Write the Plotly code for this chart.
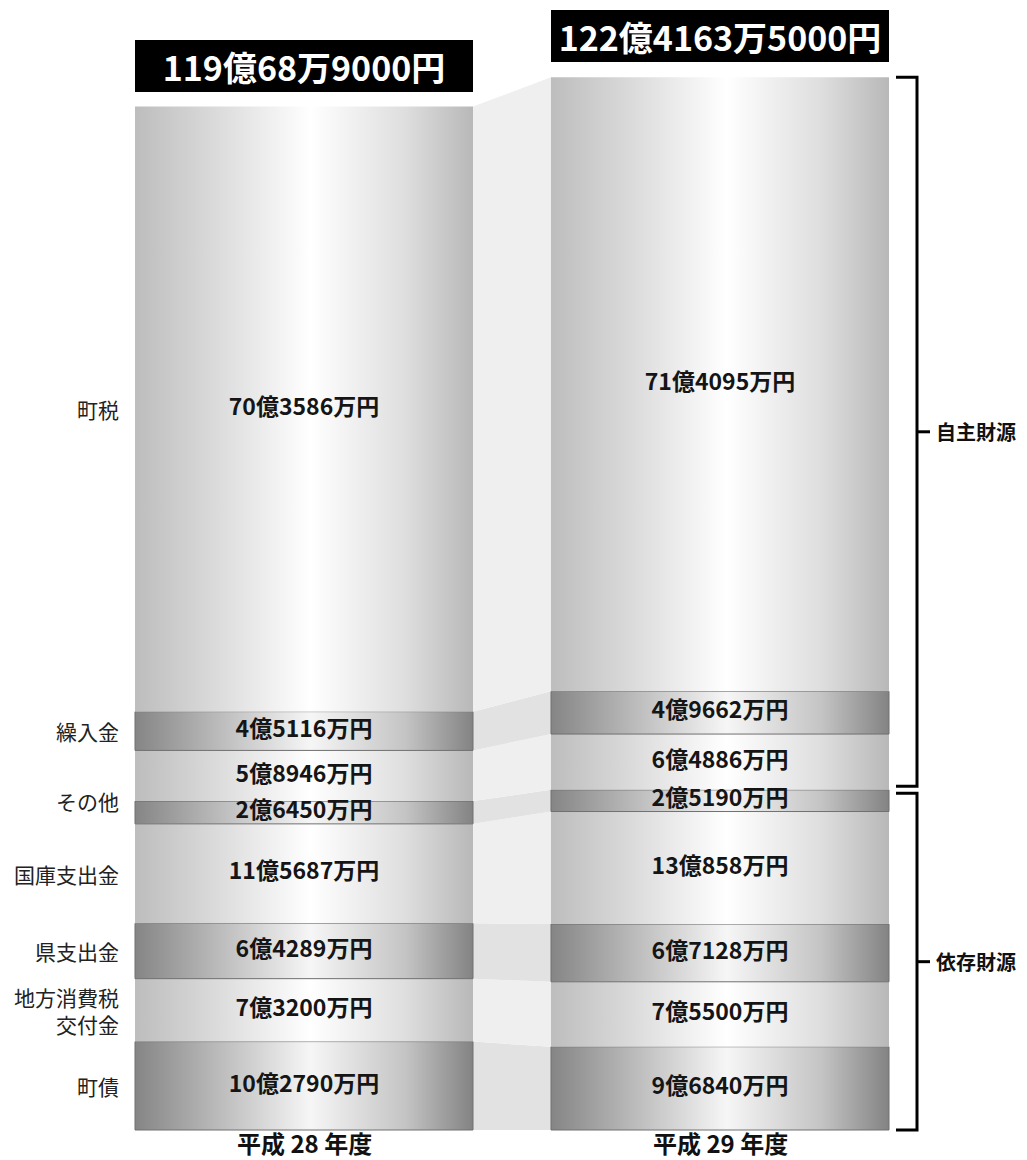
import plotly.graph_objects as go

# ---------------- data (values in 万円) ----------------
categories = ["町債", "地方消費税交付金", "県支出金", "国庫支出金",
              "その他（依存）", "その他（自主）", "繰入金", "町税"]
side_labels = ["町債", "地方消費税<br>交付金", "県支出金", "国庫支出金",
               "その他", "", "繰入金", "町税"]
side_label_anchor = ["mid", "mid", "mid", "mid", "top", "", "mid", "mid"]
years = ["平成 28 年度", "平成 29 年度"]
h28 = [102790, 73200, 64289, 115687, 26450, 58946, 45116, 703586]
h29 = [96840, 75500, 67128, 130858, 25190, 64886, 49662, 714095]
totals_yen = [11900689000, 12241635000]
dark = [True, False, True, False, True, False, True, False]
groups = [("自主財源", 5, 7), ("依存財源", 0, 4)]

series = [h28, h29]

# ---------------- helpers ----------------
def fmt_man(v):
    oku, man = divmod(v, 10000)
    s = ""
    if oku:
        s += f"{oku}億"
    if man:
        s += f"{man}万"
    return s + "円"

def fmt_yen(y):
    oku, r = divmod(y, 10**8)
    man, rest = divmod(r, 10**4)
    s = f"{oku}億"
    if man:
        s += f"{man}万"
    if rest:
        s += f"{rest}"
    return s + "円"

def stack(vals):
    b, out = 0.0, []
    for v in vals:
        out.append((b / 10000, (b + v) / 10000))
        b += v
    return out

# ---------------- geometry (layout) ----------------
W, H = 1027, 1160
PX_X = 416.0          # pixels per x unit
PX_Y = 8.6            # pixels per 億円
centers = [0.0, 1.0]
hw = 169 / PX_X
x_range = [-304 / PX_X, (W - 304) / PX_X]
y_range = [-30 / PX_Y, 1130 / PX_Y]

grad_light = [[0, "#bdbdbd"], [0.25, "#dcdcdc"], [0.52, "#ffffff"], [0.8, "#dedede"], [1, "#b8b8b8"]]
grad_dark = [[0, "#858585"], [0.22, "#b5b5b5"], [0.52, "#f6f6f6"], [0.8, "#c4c4c4"], [1, "#838383"]]

stacks = [stack(s) for s in series]

fig = go.Figure()

# connectors between the two columns
for j in range(len(categories)):
    (lb, lt), (rb, rt) = stacks[0][j], stacks[1][j]
    x0, x1 = centers[0] + hw, centers[1] - hw
    fig.add_trace(go.Scatter(
        x=[x0, x1, x1, x0, x0], y=[lb, rb, rt, lt, lb],
        fill="toself", fillcolor="#e2e2e2" if dark[j] else "#efefef",
        mode="lines", line=dict(width=0), hoverinfo="skip", showlegend=False))

# stacked columns with metallic gradient
for i, c in enumerate(centers):
    for j in range(len(categories)):
        b, t = stacks[i][j]
        x0, x1 = c - hw, c + hw
        fig.add_trace(go.Scatter(
            x=[x0, x1, x1, x0, x0], y=[b, b, t, t, b],
            fill="toself",
            fillgradient=dict(type="horizontal", start=x0, stop=x1,
                              colorscale=grad_dark if dark[j] else grad_light),
            mode="lines",
            line=dict(width=1 if dark[j] else 0, color="#707070"),
            name=categories[j], hoverinfo="skip", showlegend=False))

# value labels
for i, c in enumerate(centers):
    fig.add_trace(go.Scatter(
        x=[c] * len(categories),
        y=[(b + t) / 2 for b, t in stacks[i]],
        text=[f"<b>{fmt_man(v)}</b>" for v in series[i]],
        mode="text", textposition="middle center",
        textfont=dict(family="Noto Sans CJK JP", size=23, color="#151515"),
        hoverinfo="skip", showlegend=False))

annotations = []
# side category labels (left of first column)
for j, lab in enumerate(side_labels):
    if not lab:
        continue
    b, t = stacks[0][j]
    y = t if side_label_anchor[j] == "top" else (b + t) / 2
    annotations.append(dict(
        x=centers[0] - hw, y=y, xref="x", yref="y", text=lab, showarrow=False,
        xanchor="right", yanchor="middle", xshift=-14, align="right",
        font=dict(family="Noto Sans CJK JP", size=21, color="#222222")))

# totals in black boxes
for i, c in enumerate(centers):
    top = stacks[i][-1][1]
    annotations.append(dict(
        x=c, y=top, xref="x", yref="y", text=f"<b>{fmt_yen(totals_yen[i])}</b>",
        showarrow=False, xanchor="center", yanchor="bottom", yshift=15,
        width=338, height=52, bgcolor="#000000", borderpad=0, borderwidth=0,
        font=dict(family="Noto Sans CJK JP", size=34, color="#ffffff")))

# year labels
for i, c in enumerate(centers):
    annotations.append(dict(
        x=c, y=0, xref="x", yref="y", text=f"<b>{years[i]}</b>", showarrow=False,
        xanchor="center", yanchor="middle", yshift=-12,
        font=dict(family="Noto Sans CJK JP", size=24, color="#111111")))

# brackets for the groups (right of second column)
shapes = []
edge = centers[1] + hw
bx0 = edge + 7 / PX_X
bxv = edge + 28 / PX_X
bxt = edge + 41 / PX_X
gap = 3.5 / PX_Y
for k, (gname, j0, j1) in enumerate(groups):
    yb = stacks[1][j0][0]
    yt = stacks[1][j1][1]
    if j0 > 0:
        yb += gap
    if j1 < len(categories) - 1:
        yt -= gap
    ym = (yb + yt) / 2
    shapes.append(dict(type="path", xref="x", yref="y",
                       path=f"M{bx0},{yt} L{bxv},{yt} L{bxv},{yb} L{bx0},{yb}",
                       line=dict(color="#000000", width=3)))
    shapes.append(dict(type="line", xref="x", yref="y", x0=bxv, x1=bxt, y0=ym, y1=ym,
                       line=dict(color="#000000", width=3)))
    annotations.append(dict(
        x=bxt, y=ym, xref="x", yref="y", text=f"<b>{gname}</b>", showarrow=False,
        xanchor="left", yanchor="middle", xshift=4,
        font=dict(family="Noto Sans CJK JP", size=20, color="#111111")))

fig.update_layout(
    width=W, height=H, margin=dict(l=0, r=0, t=0, b=0),
    paper_bgcolor="#ffffff", plot_bgcolor="#ffffff",
    xaxis=dict(range=x_range, visible=False, fixedrange=True),
    yaxis=dict(range=y_range, visible=False, fixedrange=True),
    annotations=annotations, shapes=shapes, showlegend=False,
)

fig.write_html("out.html", config={"displayModeBar": False},
               post_script="document.body.style.margin='0';document.body.style.overflow='hidden';")
